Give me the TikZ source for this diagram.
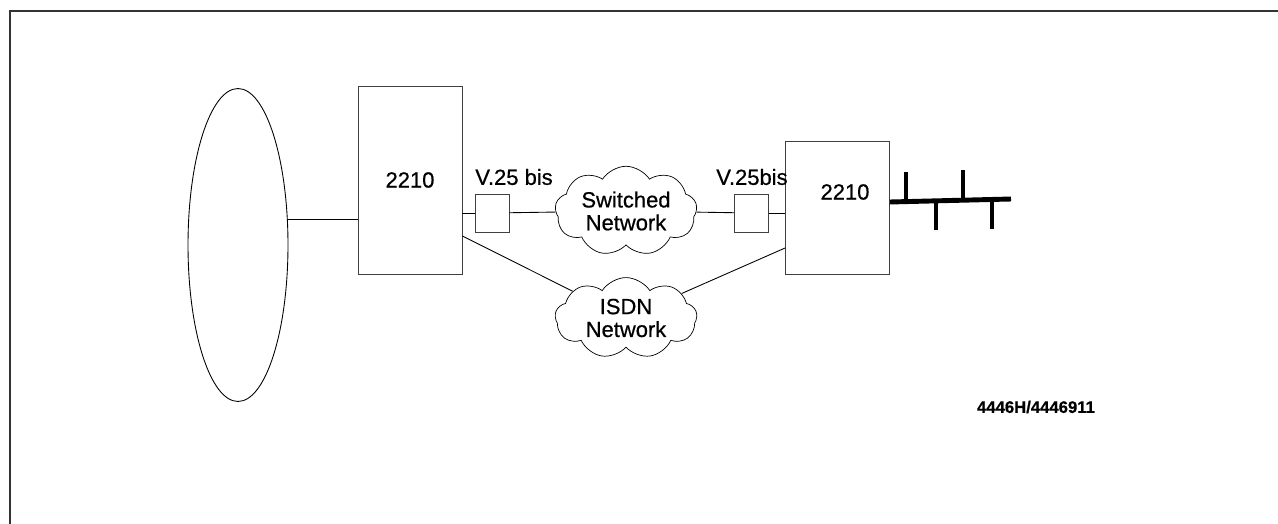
\documentclass[tikz,border=0pt]{standalone}
\usepackage{fontspec}
\setmainfont{Liberation Sans}[FakeBold=0.6]
\usetikzlibrary{positioning,shapes.geometric,shapes.symbols}

\begin{document}
\begin{tikzpicture}[x=0.02cm,y=-0.02cm,
  unit/.style={draw=black!75,line width=0.5pt,minimum width=2.08cm,minimum height=3.76cm,inner sep=0pt,font=\fontsize{12.5}{14}\selectfont},
  modem/.style={draw=black!75,line width=0.5pt,minimum width=0.68cm,minimum height=0.76cm,inner sep=0pt},
  net/.style={draw,cloud,cloud puffs=9,cloud puff arc=115,aspect=1.8,minimum width=2.84cm,minimum height=1.5cm,inner sep=0pt,align=center,font=\fontsize{12.5}{13}\selectfont},
  lbl/.style={font=\fontsize{12.5}{14}\selectfont,inner sep=0pt},
  link/.style={line width=0.5pt},
  bus/.style={line width=2.8pt}]
  \useasboundingbox (0,0) rectangle (1278,524);
  \draw[line width=1.1pt,black!80] (10,524) -- (10,11) -- (1278,11);
  \node[draw,ellipse,line width=0.5pt,minimum width=2cm,minimum height=6.26cm,inner sep=0pt] (ring) at (238,245) {};
  \node[unit] (lunit) at (410,180) {2210};
  \node[unit,minimum height=2.66cm] (runit) at (837.5,207.5) {};
  \node[lbl] (rname) at (845,192) {2210};
  \node[modem] (lmodem) at (492,213) {};
  \node[modem] (rmodem) at (751.5,213) {};
  \node[lbl,anchor=west] (lv25) at (475,177) {V.25 bis};
  \node[lbl,anchor=west] (rv25) at (716,177) {V.25bis};
  \node[net] (swnet) at (626,211) {Switched\\Network};
  \node[net] (isdn) at (626,318) {ISDN\\Network};
  \node[font=\fontsize{9.5}{11}\selectfont\bfseries] (figid) at (1036,407) {4446H/4446911};
  \draw[link] ([yshift=0.52cm]ring.east) -- ([yshift=0.52cm]ring.east -| lunit.west);
  \draw[link] (lmodem.west -| lunit.east) -- (lmodem);
  \draw[link] (lmodem) -- (swnet);
  \draw[link] (swnet) -- (rmodem);
  \draw[link] (rmodem) -- (rmodem.east -| runit.west);
  \draw[link] ([yshift=-1.12cm]lunit.east) -- (isdn);
  \draw[link] (isdn) -- ([yshift=-0.81cm]runit.west);
  % token ring bus
  \draw[bus] (runit.east |- 0,202) -- (1011,199);
  \foreach \x/\a/\b in {906/172/202, 963/170/200, 936/201/230, 992/199/229}
    \draw[bus] (\x,\a) -- (\x,\b);
\end{tikzpicture}
\end{document}
